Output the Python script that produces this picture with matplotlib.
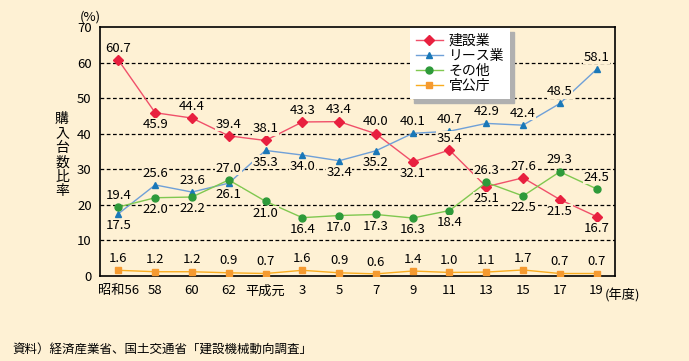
import matplotlib
matplotlib.use("Agg")
import matplotlib.pyplot as plt
import numpy as np

plt.rcParams['font.family'] = ['Noto Sans CJK JP', 'DejaVu Sans']

years = ['昭和56', '58', '60', '62', '平成元', '3', '5', '7', '9', '11', '13', '15', '17', '19']
kensetsu = [60.7, 45.9, 44.4, 39.4, 38.1, 43.3, 43.4, 40.0, 32.1, 35.4, 25.1, 27.6, 21.5, 16.7]
lease = [17.5, 25.6, 23.6, 26.1, 35.3, 34.0, 32.4, 35.2, 40.1, 40.7, 42.9, 42.4, 48.5, 58.1]
sonota = [19.4, 22.0, 22.2, 27.0, 21.0, 16.4, 17.0, 17.3, 16.3, 18.4, 26.3, 22.5, 29.3, 24.5]
kankocho = [1.6, 1.2, 1.2, 0.9, 0.7, 1.6, 0.9, 0.6, 1.4, 1.0, 1.1, 1.7, 0.7, 0.7]

bg = '#FEF1D4'
x = np.arange(len(years))

fig = plt.figure(figsize=(6.89, 3.61), dpi=100, facecolor=bg)
ax = fig.add_axes([100 / 689, 1 - 276 / 361, 515 / 689, 249 / 361])
ax.set_facecolor(bg)

# label placement: 1 = above, -1 = below
series = [
    ('建設業', kensetsu, '#F0506A', '#E8203F', 'D', 5,
     [1, -1, 1, 1, 1, 1, 1, 1, -1, 1, -1, 1, -1, -1]),
    ('リース業', lease, '#6FA0D8', '#1A78B8', '^', 5,
     [-1, 1, 1, -1, -1, -1, -1, -1, 1, 1, 1, 1, 1, 1]),
    ('その他', sonota, '#80C850', '#2E9A3A', 'o', 5,
     [1, -1, -1, 1, -1, -1, -1, -1, -1, -1, 1, -1, 1, 1]),
    ('官公庁', kankocho, '#F8AC20', '#F59A30', 's', 5,
     [1] * 14),
]

for name, vals, lc, mc, mk, ms, pos in series:
    ax.plot(x, vals, color=lc, lw=1, marker=mk, markersize=ms,
            markerfacecolor=mc, markeredgecolor=mc, label=name, zorder=3)
    for xi, v, p in zip(x, vals, pos):
        ax.annotate(f'{v:.1f}', (xi, v), xytext=(0, 8.5 * p), textcoords='offset points',
                    ha='center', va='center', fontsize=9.5,
                    bbox=dict(facecolor=bg, edgecolor='none', pad=0.3), zorder=4)

ax.set_xlim(-0.5, 13.5)
ax.set_ylim(0, 70)
ax.set_yticks(range(0, 71, 10))
ax.set_xticks(x)
ax.set_xticklabels(years)
ax.tick_params(length=0, labelsize=9.5, pad=6)
for y in range(10, 70, 10):
    ax.axhline(y, color='black', lw=0.9, ls=(0, (3, 2)), zorder=1)
for s in ax.spines.values():
    s.set_linewidth(1.2)

ax.text(13.22, -5.6, '(年度)', fontsize=9.5, ha='left', va='center', clip_on=False)
ax.text(-0.75, 71, '(%)', fontsize=9.5, ha='center', va='bottom', clip_on=False)
fig.text(62 / 689, 1 - 155 / 361, '\n'.join('購入台数比率'), fontsize=10,
         ha='center', va='center', linespacing=1.05)
fig.text(12 / 689, 1 - 350 / 361, '資料）経済産業省、国土交通省「建設機械動向調査」',
         fontsize=9, ha='left', va='center')

leg = ax.legend(loc='upper left', bbox_to_anchor=(310 / 515, 0.995), fontsize=10,
                frameon=True, fancybox=False,
                shadow={'ox': 3, 'oy': -3, 'color': '#B0B0B0', 'alpha': 1},
                handlelength=2.0, handletextpad=0.4, labelspacing=0.08,
                borderpad=0.4, borderaxespad=0)
leg.get_frame().set_facecolor('white')
leg.get_frame().set_edgecolor('none')
leg.set_zorder(10)

fig.savefig('out.png', dpi=100, facecolor=bg)
